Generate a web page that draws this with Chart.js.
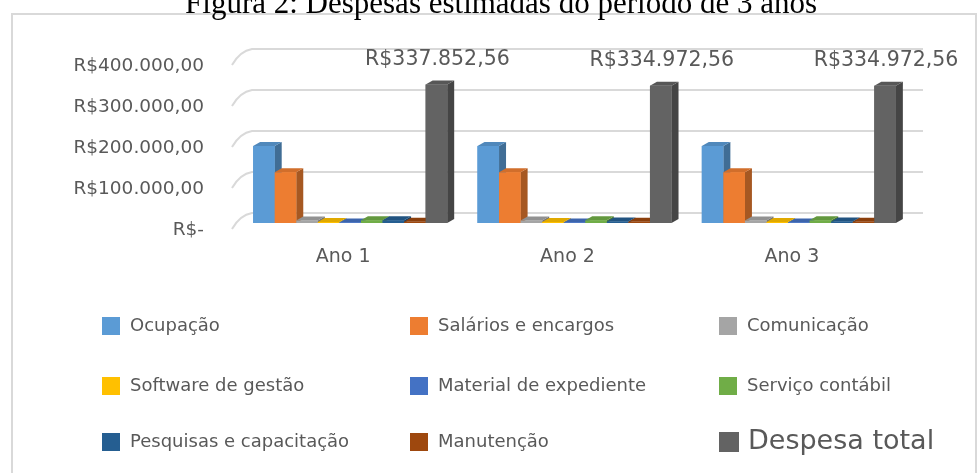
<!DOCTYPE html>
<html>
<head>
<meta charset="utf-8">
<script src="https://cdn.jsdelivr.net/npm/chart.js@4.4.1/dist/chart.umd.min.js"></script>
<style>
html, body { margin: 0; padding: 0; background: #fff; overflow: hidden; }
</style>
</head>
<body>
<canvas id="chart" width="978" height="473"></canvas>
<script>
// dados
var anos = ['Ano 1', 'Ano 2', 'Ano 3'];
var itens = ['Ocupação', 'Salários e encargos', 'Comunicação', 'Software de gestão',
    'Material de expediente', 'Serviço contábil', 'Pesquisas e capacitação', 'Manutenção', 'Despesa total'];
var ocupacao = [188000, 188000, 188000];
var salarios = [124000, 124000, 124000];
var comunicacao = [6000, 6000, 6000];
var software = [2500, 2500, 2500];
var material = [1500, 1500, 1500];
var servico = [6500, 6500, 6500];
var pesquisas = [6500, 3620, 3620];
var manutencao = [2852.56, 2852.56, 2852.56];
var despesaTotal = [337852.56, 334972.56, 334972.56];
var yTicks = [0, 100000, 200000, 300000, 400000];
var titulo = 'Figura 2: Despesas estimadas do período de 3 anos';

var series = [ocupacao, salarios, comunicacao, software, material, servico, pesquisas, manutencao, despesaTotal];
var cores = ['#5B9BD5', '#ED7D31', '#A5A5A5', '#FFC000', '#4472C4', '#70AD47', '#255E91', '#9E480E', '#636363'];

function brl(v) {
    if (v === 0) return 'R$-';
    var s = v.toFixed(2).split('.');
    return 'R$' + s[0].replace(/\B(?=(\d{3})+(?!\d))/g, '.') + ',' + s[1];
}

function shade(hex, f) {
    var n = parseInt(hex.slice(1), 16);
    var r = (n >> 16) & 255, g = (n >> 8) & 255, b = n & 255;
    function c(v) { return Math.max(0, Math.min(255, Math.round(f > 1 ? v + (255 - v) * (f - 1) : v * f))); }
    return 'rgb(' + c(r) + ',' + c(g) + ',' + c(b) + ')';
}

var textoCor = '#595959';
var fonte = '"DejaVu Sans", sans-serif';

var efeito3d = {
    id: 'efeito3d',
    beforeDraw: function(chart) {
        var ctx = chart.ctx;
        ctx.save();
        ctx.fillStyle = '#fff';
        ctx.fillRect(0, 0, chart.width, chart.height);
        ctx.strokeStyle = '#d9d9d9';
        ctx.lineWidth = 2;
        ctx.strokeRect(12, 14, 964, 470);
        ctx.fillStyle = '#000';
        ctx.font = '31px "Liberation Serif", serif';
        ctx.textAlign = 'center';
        ctx.textBaseline = 'alphabetic';
        ctx.fillText(titulo, 501, 13);
        ctx.restore();
    },
    beforeDatasetsDraw: function(chart) {
        // linhas de grade na parede do fundo
        var ctx = chart.ctx, y = chart.scales.y, area = chart.chartArea;
        ctx.save();
        ctx.strokeStyle = '#d9d9d9';
        ctx.lineWidth = 2;
        y.ticks.forEach(function(t) {
            var p = y.getPixelForValue(t.value);
            ctx.beginPath();
            ctx.moveTo(area.left - 6, p + 6);
            ctx.quadraticCurveTo(area.left + 2, p - 8, area.left + 14, p - 10);
            ctx.lineTo(area.right + 12, p - 10);
            ctx.stroke();
        });
        ctx.restore();
    },
    afterDatasetsDraw: function(chart) {
        var ctx = chart.ctx, dx = 7, dy = -4;
        ctx.save();
        chart.data.datasets.forEach(function(ds, i) {
            var meta = chart.getDatasetMeta(i);
            meta.data.forEach(function(bar) {
                var p = bar.getProps(['x', 'y', 'width', 'base'], true);
                var l = p.x - p.width / 2, r = p.x + p.width / 2;
                ctx.fillStyle = shade(ds.backgroundColor, 0.7);
                ctx.beginPath();
                ctx.moveTo(r, p.y); ctx.lineTo(r + dx, p.y + dy);
                ctx.lineTo(r + dx, p.base + dy); ctx.lineTo(r, p.base);
                ctx.closePath(); ctx.fill();
                ctx.fillStyle = shade(ds.backgroundColor, 0.88);
                ctx.beginPath();
                ctx.moveTo(l, p.y); ctx.lineTo(l + dx, p.y + dy);
                ctx.lineTo(r + dx, p.y + dy); ctx.lineTo(r, p.y);
                ctx.closePath(); ctx.fill();
                bar.draw(ctx);
            });
        });
        // rótulos da despesa total
        var last = chart.data.datasets.length - 1;
        var metaT = chart.getDatasetMeta(last);
        ctx.fillStyle = textoCor;
        ctx.font = '20.5px ' + fonte;
        ctx.textAlign = 'center';
        ctx.textBaseline = 'middle';
        metaT.data.forEach(function(bar, j) {
            ctx.fillText(brl(chart.data.datasets[last].data[j]), bar.x + 1, bar.y - 25);
        });
        ctx.restore();
    },
    afterDraw: function(chart) {
        // legenda em 3 colunas
        var ctx = chart.ctx;
        var colX = [102, 410, 719], rowY = [326, 386, 442];
        ctx.save();
        ctx.textAlign = 'left';
        ctx.textBaseline = 'middle';
        chart.data.datasets.forEach(function(ds, i) {
            var x = colX[i % 3], y = rowY[Math.floor(i / 3)];
            var grande = i === chart.data.datasets.length - 1;
            var s = grande ? 20 : 18;
            ctx.fillStyle = ds.backgroundColor;
            ctx.fillRect(x, y - s / 2, s, s);
            ctx.fillStyle = textoCor;
            ctx.font = (grande ? '27px ' : '18px ') + fonte;
            ctx.fillText(ds.label, x + (grande ? 29 : 28), y);
        });
        ctx.restore();
    }
};

var ctx = document.getElementById('chart').getContext('2d');
var chart = new Chart(ctx, {
    type: 'bar',
    data: {
        labels: anos,
        datasets: series.map(function(d, i) {
            return { label: itens[i], data: d, backgroundColor: cores[i], borderWidth: 0,
                     categoryPercentage: 0.865, barPercentage: 1.0 };
        })
    },
    options: {
        responsive: false,
        animation: false,
        devicePixelRatio: 1,
        layout: { padding: { left: 0, right: 67, top: 59, bottom: 0 } },
        scales: {
            x: {
                grid: { display: false, drawTicks: false },
                border: { display: false },
                ticks: { color: textoCor, font: { family: fonte, size: 19 }, padding: 23, labelOffset: -7 },
                afterFit: function(s) { s.height = 250; }
            },
            y: {
                min: 0,
                max: 400000,
                grid: { display: false, drawTicks: false },
                border: { display: false },
                afterBuildTicks: function(s) { s.ticks = yTicks.map(function(v) { return { value: v }; }); },
                ticks: {
                    color: textoCor,
                    font: { family: fonte, size: 18.5 },
                    padding: 34,
                    labelOffset: 7,
                    callback: function(value) { return brl(value); }
                },
                afterFit: function(s) { s.width = 238; }
            }
        },
        plugins: {
            legend: { display: false },
            tooltip: { enabled: false },
            title: { display: false }
        }
    },
    plugins: [efeito3d]
});
</script>
</body>
</html>
